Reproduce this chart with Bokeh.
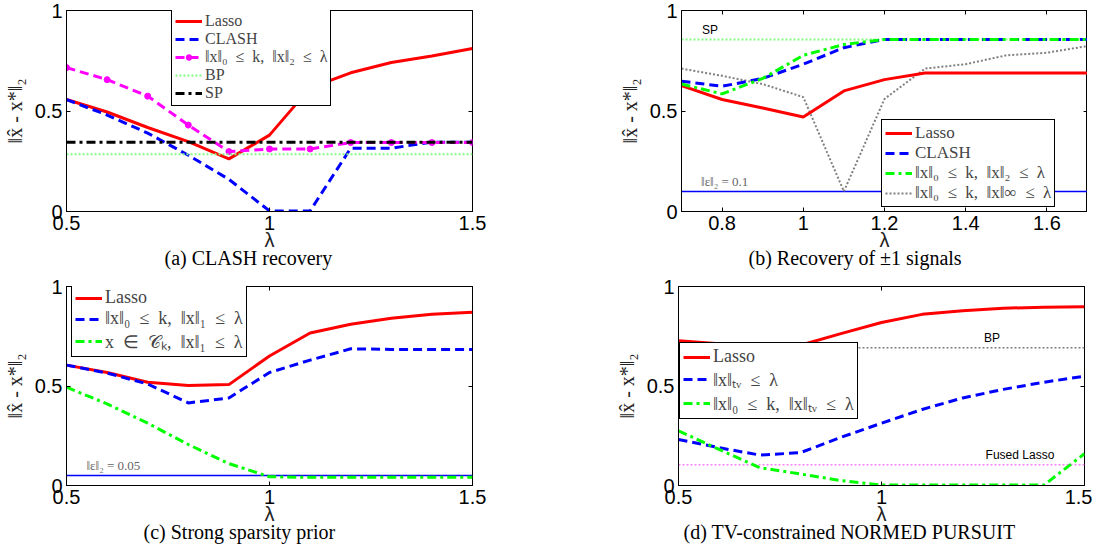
from bokeh.plotting import figure
from bokeh.layouts import column, row
from bokeh.models import (Legend, LegendItem, Label, LinearAxis, FixedTicker,
                          CustomJSTickFormatter, Title)
from bokeh.embed import file_html
from bokeh.resources import INLINE

# ---------------- data ----------------
lam_a = [0.5, 0.6, 0.7, 0.8, 0.9, 1.0, 1.1, 1.2, 1.3, 1.4, 1.5]
a_lasso = [0.557, 0.495, 0.418, 0.348, 0.262, 0.380, 0.615, 0.690, 0.741, 0.774, 0.811]
a_clash = [0.557, 0.480, 0.390, 0.280, 0.160, 0.003, 0.003, 0.315, 0.315, 0.345, 0.345]
a_l0l2 = [0.716, 0.656, 0.574, 0.430, 0.298, 0.311, 0.311, 0.343, 0.343, 0.343, 0.343]
a_bp = 0.285
a_sp = 0.344

lam_b = [0.7, 0.8, 0.9, 1.0, 1.1, 1.2, 1.3, 1.4, 1.5, 1.6, 1.7]
b_lasso = [0.626, 0.557, 0.515, 0.470, 0.600, 0.656, 0.689, 0.689, 0.689, 0.689, 0.689]
b_clash = [0.648, 0.623, 0.662, 0.733, 0.815, 0.856, 0.856, 0.856, 0.856, 0.856, 0.856]
b_l0l2 = [0.634, 0.585, 0.662, 0.777, 0.831, 0.856, 0.856, 0.856, 0.856, 0.856, 0.856]
b_l0linf = [0.711, 0.675, 0.634, 0.569, 0.100, 0.560, 0.711, 0.733, 0.777, 0.790, 0.823]
b_sp = 0.856
b_noise = 0.1

lam_c = [0.5, 0.6, 0.7, 0.8, 0.9, 1.0, 1.1, 1.2, 1.3, 1.4, 1.5]
c_lasso = [0.605, 0.568, 0.519, 0.502, 0.507, 0.651, 0.766, 0.810, 0.840, 0.860, 0.870]
c_l0l1 = [0.605, 0.565, 0.510, 0.415, 0.440, 0.568, 0.630, 0.687, 0.684, 0.684, 0.684]
c_ck = [0.494, 0.410, 0.313, 0.206, 0.110, 0.044, 0.041, 0.041, 0.041, 0.041, 0.041]
c_noise = 0.05

lam_d = [0.5, 0.6, 0.7, 0.8, 0.9, 1.0, 1.1, 1.2, 1.3, 1.4, 1.5]
d_lasso = [0.728, 0.712, 0.695, 0.705, 0.763, 0.819, 0.860, 0.878, 0.891, 0.896, 0.898]
d_tv = [0.231, 0.190, 0.153, 0.165, 0.242, 0.313, 0.382, 0.440, 0.483, 0.519, 0.549]
d_l0tv = [0.275, 0.181, 0.090, 0.058, 0.025, 0.002, 0.002, 0.002, 0.002, 0.002, 0.160]
d_bp = 0.692
d_fused = 0.104

ticks_a = [0.5, 1, 1.5]
ticks_b = [0.8, 1.0, 1.2, 1.4, 1.6]
ticks_y = [0, 0.5, 1]

# ---------------- styles ----------------
RED = "#ff0000"
BLUE = "#0000ff"
MAG = "#ff00ff"
GREEN = "#00ff00"
LGREEN = "#80ff80"
GRAY = "#808080"
PINK = "#ff80ff"
DASH = "9 5"
DASHDOT = "9 4 3 4"
DOT = "2 2"
SERIF = "Liberation Serif"
SANS = "Liberation Sans"
YLABEL = "\u2016x\u0302 - x*\u2016\u2082"
SP2 = "\u2002"

fmt_code = "return (Math.round(tick*10)/10).toString();"


def make_fig(xr, xticks, bl, br, bt, bb, fh):
    p = figure(frame_width=406, frame_height=fh, x_range=xr, y_range=(0, 1),
               min_border_left=bl, min_border_right=br, min_border_top=bt,
               min_border_bottom=bb, output_backend="svg", toolbar_location=None)
    p.xgrid.visible = False
    p.ygrid.visible = False
    p.outline_line_color = "black"
    p.outline_line_alpha = 1
    p.outline_line_width = 1
    p.background_fill_color = "white"
    p.border_fill_color = "white"
    for ax, tk in ((p.xaxis[0], xticks), (p.yaxis[0], ticks_y)):
        ax.ticker = FixedTicker(ticks=tk)
        ax.formatter = CustomJSTickFormatter(code=fmt_code)
        ax.major_tick_in = 4
        ax.major_tick_out = 0
        ax.minor_tick_line_color = None
        ax.axis_line_color = "black"
        ax.major_label_text_font = SANS
        ax.major_label_text_font_size = "20px"
        ax.major_label_text_color = "black"
        ax.major_label_standoff = 4
        ax.axis_label_text_font_style = "normal"
        ax.axis_label_text_color = "#222222"
    p.xaxis[0].axis_label = "\u03bb"
    p.xaxis[0].axis_label_text_font = SANS
    p.xaxis[0].axis_label_text_font_size = "20px"
    p.xaxis[0].axis_label_standoff = -4
    p.yaxis[0].axis_label = YLABEL
    p.yaxis[0].axis_label_text_font = SERIF
    p.yaxis[0].axis_label_text_font_size = "20px"
    p.yaxis[0].axis_label_standoff = 6
    # mirrored ticks on top and right
    for loc, tk in (("above", xticks), ("right", ticks_y)):
        ax = LinearAxis(ticker=FixedTicker(ticks=tk),
                        formatter=CustomJSTickFormatter(code="return '';"),
                        major_tick_in=4, major_tick_out=0,
                        minor_tick_line_color=None, axis_line_color=None,
                        major_label_standoff=0,
                        major_label_text_font_size="1px")
        p.add_layout(ax, loc)
    return p


def style_legend(lg, fs):
    lg.border_line_color = "black"
    lg.border_line_width = 1
    lg.border_line_alpha = 1
    lg.background_fill_color = "white"
    lg.background_fill_alpha = 1
    lg.label_text_font = SERIF
    lg.label_text_font_size = fs
    lg.glyph_width = 27
    lg.glyph_height = 14
    lg.label_height = 14
    lg.label_standoff = 3
    lg.spacing = 0
    lg.padding = 3
    lg.margin = 0


def caption(p, offset, text):
    p.add_layout(Title(text=text, align="left", offset=offset, standoff=-13,
                       vertical_align="top",
                       text_font=SERIF, text_font_size="20px", text_font_style="normal",
                       text_color="black"), "below")


def leq_label(sub1, sub2):
    return ("\u2016x\u2016" + sub1 + SP2 + "\u2264" + SP2 + "k," + SP2 +
            "\u2016x\u2016" + sub2 + SP2 + "\u2264" + SP2 + "\u03bb")


# ---------------- (a) ----------------
pa = make_fig((0.5, 1.5), ticks_a, 60, 100, 10, 63, 201)
ra1 = pa.line(lam_a, a_lasso, line_color=RED, line_width=3)
ra2 = pa.line(lam_a, a_clash, line_color=BLUE, line_width=3, line_dash=DASH)
ra3 = pa.line(lam_a, a_l0l2, line_color=MAG, line_width=3, line_dash=DASH)
ra3m = pa.scatter(lam_a, a_l0l2, size=6, color=MAG)
ra4 = pa.line([lam_a[0], lam_a[-1]], [a_bp, a_bp], line_color=LGREEN, line_width=2, line_dash=DOT)
ra5 = pa.line([lam_a[0], lam_a[-1]], [a_sp, a_sp], line_color="black", line_width=3, line_dash=DASHDOT)
lga = Legend(items=[LegendItem(label="Lasso", renderers=[ra1]),
                    LegendItem(label="CLASH", renderers=[ra2]),
                    LegendItem(label=leq_label("\u2080", "\u2082"), renderers=[ra3, ra3m]),
                    LegendItem(label="BP", renderers=[ra4]),
                    LegendItem(label="SP", renderers=[ra5])],
             location=(105, 105))
style_legend(lga, "16px")
pa.add_layout(lga)
caption(pa, 98, "(a)  CLASH recovery")

# ---------------- (b) ----------------
pb = make_fig((0.7, 1.7), ticks_b, 109, 0, 10, 63, 201)
pb.line([lam_b[0], lam_b[-1]], [b_sp, b_sp], line_color=LGREEN, line_width=2, line_dash=DOT)
pb.line([lam_b[0], lam_b[-1]], [b_noise, b_noise], line_color=BLUE, line_width=1.5)
rb4 = pb.line(lam_b, b_l0linf, line_color=GRAY, line_width=2, line_dash=DOT)
rb1 = pb.line(lam_b, b_lasso, line_color=RED, line_width=3)
rb2 = pb.line(lam_b, b_clash, line_color=BLUE, line_width=3, line_dash=DASH)
rb3 = pb.line(lam_b, b_l0l2, line_color=GREEN, line_width=3, line_dash=DASHDOT)
pb.add_layout(Label(x=0.77, y=0.905, text="SP", text_align="center", text_baseline="middle",
                    text_font=SANS, text_font_size="12px", text_color="black"))
pb.add_layout(Label(x=0.748, y=0.15, text="\u2016\u03b5\u2016\u2082 = 0.1", text_align="left",
                    text_baseline="middle", text_font=SERIF, text_font_size="13px", text_color="#666666"))
lgb = Legend(items=[LegendItem(label="Lasso", renderers=[rb1]),
                    LegendItem(label="CLASH", renderers=[rb2]),
                    LegendItem(label=leq_label("\u2080", "\u2082"), renderers=[rb3]),
                    LegendItem(label=leq_label("\u2080", "\u221e"), renderers=[rb4])],
             location=(200, 4))
style_legend(lgb, "17px")
pb.add_layout(lgb)
caption(pb, 67, "(b)  Recovery of \u00b11 signals")

# ---------------- (c) ----------------
pc = make_fig((0.5, 1.5), ticks_a, 55, 100, 12, 63, 199)
pc.line([lam_c[0], lam_c[-1]], [c_noise, c_noise], line_color=BLUE, line_width=1.5)
rc1 = pc.line(lam_c, c_lasso, line_color=RED, line_width=3)
rc2 = pc.line(lam_c, c_l0l1, line_color=BLUE, line_width=3, line_dash=DASH)
rc3 = pc.line(lam_c, c_ck, line_color=GREEN, line_width=3, line_dash=DASHDOT)
pc.add_layout(Label(x=0.549, y=0.099, text="\u2016\u03b5\u2016\u2082 = 0.05", text_align="left",
                    text_baseline="middle", text_font=SERIF, text_font_size="13px", text_color="#666666"))
lgc = Legend(items=[LegendItem(label="Lasso", renderers=[rc1]),
                    LegendItem(label=leq_label("\u2080", "\u2081"), renderers=[rc2]),
                    LegendItem(label="x" + SP2 + "\u2208" + SP2 + "\U0001d49e\u2096," + SP2 +
                               "\u2016x\u2016\u2081" + SP2 + "\u2264" + SP2 + "\u03bb", renderers=[rc3])],
             location=(5, 128))
style_legend(lgc, "18px")
pc.add_layout(lgc)
caption(pc, 77, "(c)  Strong sparsity prior")

# ---------------- (d) ----------------
pd_ = make_fig((0.5, 1.5), ticks_a, 106, 8, 12, 63, 199)
pd_.line([lam_d[0], lam_d[-1]], [d_bp, d_bp], line_color=GRAY, line_width=1.5, line_dash=DOT)
pd_.line([lam_d[0], lam_d[-1]], [d_fused, d_fused], line_color=PINK, line_width=1.5, line_dash=DOT)
rd1 = pd_.line(lam_d, d_lasso, line_color=RED, line_width=3)
rd2 = pd_.line(lam_d, d_tv, line_color=BLUE, line_width=3, line_dash=DASH)
rd3 = pd_.line(lam_d, d_l0tv, line_color=GREEN, line_width=3, line_dash=DASHDOT)
pd_.add_layout(Label(x=1.272, y=0.741, text="BP", text_align="center", text_baseline="middle",
                     text_font=SANS, text_font_size="12px", text_color="black"))
pd_.add_layout(Label(x=1.341, y=0.152, text="Fused Lasso", text_align="center", text_baseline="middle",
                     text_font=SANS, text_font_size="12px", text_color="black"))
lgd = Legend(items=[LegendItem(label="Lasso", renderers=[rd1]),
                    LegendItem(label="\u2016x\u2016\u209c\u1d65" + SP2 + "\u2264" + SP2 + "\u03bb", renderers=[rd2]),
                    LegendItem(label=leq_label("\u2080", "\u209c\u1d65"), renderers=[rd3])],
             location=(1, 66))
style_legend(lgd, "18px")
pd_.add_layout(lgd)
caption(pd_, 5, "(d)  TV-constrained NORMED PURSUIT")

layout = column(row(pa, pb), row(pc, pd_))
open("out.html", "w").write(file_html(layout, INLINE))
